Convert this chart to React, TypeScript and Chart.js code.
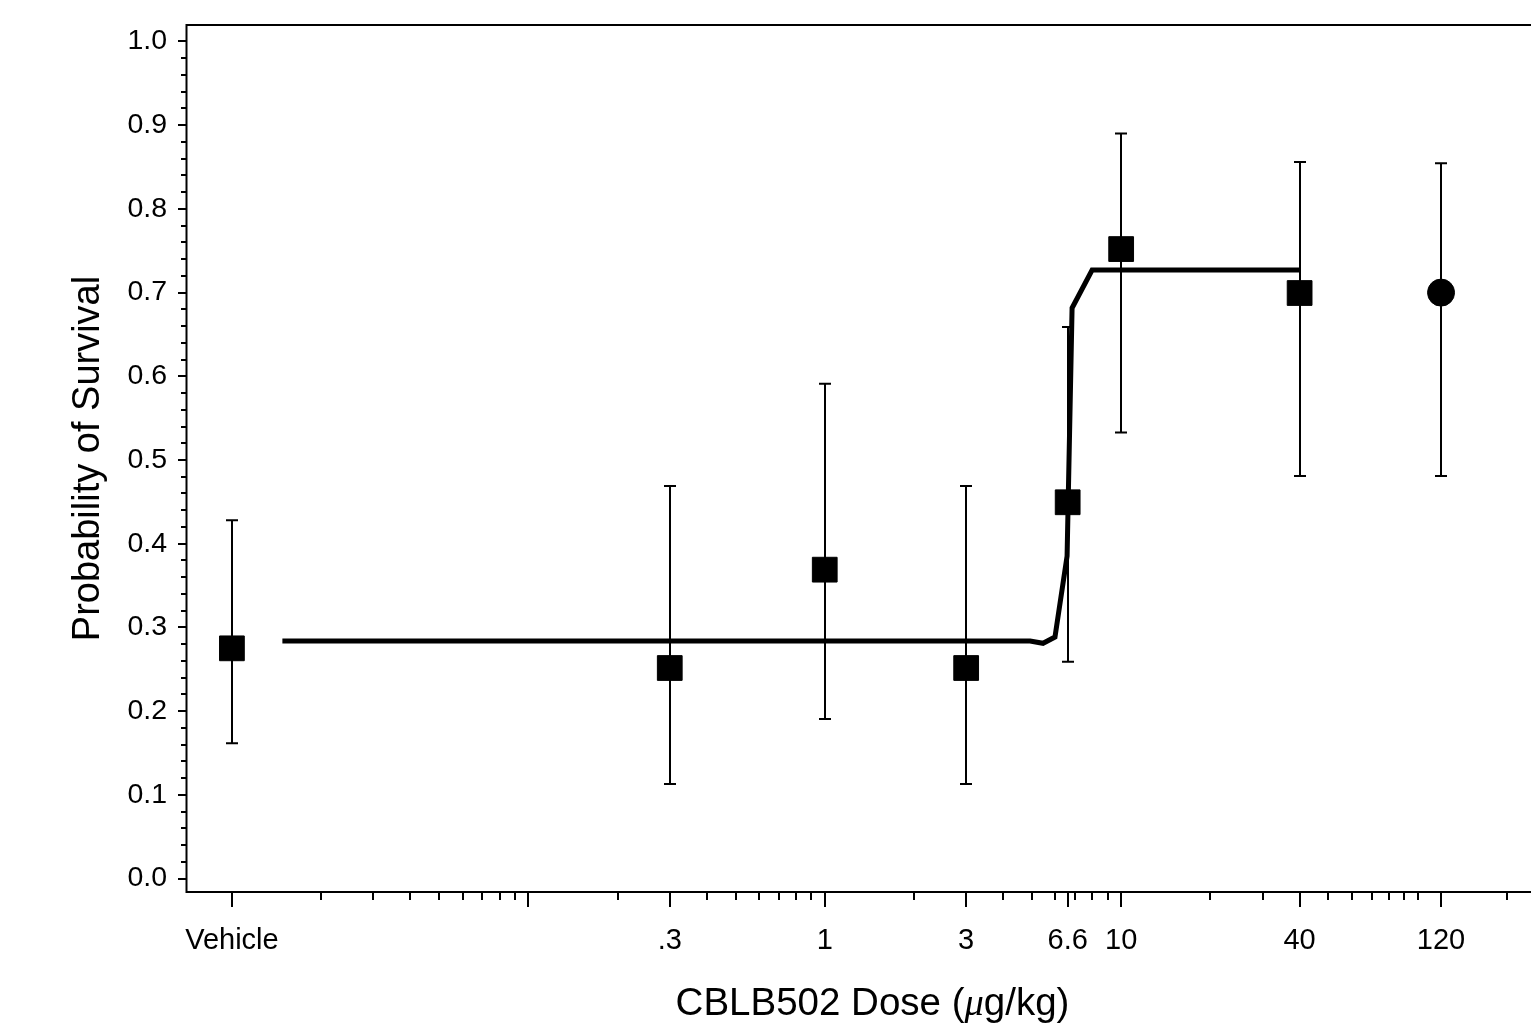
import React, { useEffect, useRef } from 'react';
import { Chart, registerables } from 'chart.js';

Chart.register(...registerables);

// ---- data ----
const doses = [0.01, 0.3, 1, 3, 6.6, 10, 40, 120]; // 0.01 = "Vehicle" position
const survival = [0.275, 0.2515, 0.369, 0.2515, 0.4495, 0.752, 0.6995, 0.7];
const lowerCI = [0.1615, 0.113, 0.1905, 0.113, 0.259, 0.533, 0.481, 0.481];
const upperCI = [0.428, 0.469, 0.591, 0.469, 0.659, 0.89, 0.856, 0.8545];
const markerStyles = ['rect', 'rect', 'rect', 'rect', 'rect', 'rect', 'rect', 'circle'];

const fitDoses = [0.0148, 4.93, 5.45, 5.98, 6.57, 6.83, 7.98, 40];
const fitSurvival = [0.2838, 0.2838, 0.281, 0.2885, 0.3853, 0.6816, 0.727, 0.727];

const xTickValues = [0.01, 0.1, 0.3, 1, 3, 6.6, 10, 40, 120];
const xTickLabels = ['Vehicle', '', '.3', '1', '3', '6.6', '10', '40', '120'];
const xMinorTicks = [
  0.02, 0.03, 0.04, 0.05, 0.06, 0.07, 0.08, 0.09,
  0.2, 0.4, 0.5, 0.6, 0.7, 0.8, 0.9,
  2, 4, 5, 6, 7, 8, 9,
  20, 30, 50, 60, 70, 80, 90, 100, 200,
];
const yTickValues = [0, 0.1, 0.2, 0.3, 0.4, 0.5, 0.6, 0.7, 0.8, 0.9, 1.0];
const yMinorTicks = [
  0.02, 0.04, 0.06, 0.08, 0.12, 0.14, 0.16, 0.18, 0.22, 0.24, 0.26, 0.28,
  0.32, 0.34, 0.36, 0.38, 0.42, 0.44, 0.46, 0.48, 0.52, 0.54, 0.56, 0.58,
  0.62, 0.64, 0.66, 0.68, 0.72, 0.74, 0.76, 0.78, 0.82, 0.84, 0.86, 0.88,
  0.92, 0.94, 0.96, 0.98,
];

const xTitleParts = ['CBLB502 Dose (', 'μ', 'g/kg)'];
const yTitle = 'Probability of Survival';

const SANS = "'Liberation Sans', Arial, sans-serif";

const decorPlugin = {
  id: 'decor',
  beforeDatasetsDraw(chart: any) {
    const { ctx, scales } = chart;
    const x = scales.x;
    const y = scales.y;
    ctx.save();
    ctx.strokeStyle = '#000';
    ctx.lineWidth = 2;
    doses.forEach((d, i) => {
      const px = Math.round(x.getPixelForValue(d));
      const p1 = y.getPixelForValue(lowerCI[i]);
      const p2 = y.getPixelForValue(upperCI[i]);
      ctx.beginPath();
      ctx.moveTo(px, p1);
      ctx.lineTo(px, p2);
      ctx.moveTo(px - 6, p1);
      ctx.lineTo(px + 6, p1);
      ctx.moveTo(px - 6, p2);
      ctx.lineTo(px + 6, p2);
      ctx.stroke();
    });
    ctx.restore();
  },
  afterDraw(chart: any) {
    const { ctx, chartArea: a, scales } = chart;
    const x = scales.x;
    const y = scales.y;
    ctx.save();
    ctx.strokeStyle = '#000';
    ctx.lineWidth = 2;
    // frame
    ctx.beginPath();
    ctx.moveTo(a.left + 0.5, a.top);
    ctx.lineTo(a.left + 0.5, a.bottom);
    ctx.moveTo(a.left - 0.5, a.top);
    ctx.lineTo(a.right, a.top);
    ctx.lineTo(a.right, a.bottom);
    ctx.moveTo(a.left - 0.5, a.bottom);
    ctx.lineTo(a.right, a.bottom);
    ctx.stroke();
    // y ticks
    ctx.beginPath();
    yTickValues.forEach((v) => {
      const py = Math.round(y.getPixelForValue(v));
      ctx.moveTo(a.left - 8, py);
      ctx.lineTo(a.left, py);
    });
    yMinorTicks.forEach((v) => {
      const py = Math.round(y.getPixelForValue(v));
      ctx.moveTo(a.left - 5, py);
      ctx.lineTo(a.left, py);
    });
    // x ticks
    xTickValues.forEach((v) => {
      const px = Math.round(x.getPixelForValue(v));
      ctx.moveTo(px, a.bottom);
      ctx.lineTo(px, a.bottom + 15);
    });
    xMinorTicks.forEach((v) => {
      const px = Math.round(x.getPixelForValue(v));
      ctx.moveTo(px, a.bottom);
      ctx.lineTo(px, a.bottom + 8);
    });
    ctx.stroke();

    // x title with italic mu
    ctx.fillStyle = '#000';
    ctx.textBaseline = 'alphabetic';
    ctx.textAlign = 'left';
    const fonts = [`38.5px ${SANS}`, `italic 38.5px 'Liberation Serif', serif`, `38.5px ${SANS}`];
    let total = 0;
    const widths = xTitleParts.map((t, i) => {
      ctx.font = fonts[i];
      const w = ctx.measureText(t).width;
      total += w;
      return w;
    });
    let cx = (a.left + a.right) / 2 - total / 2;
    xTitleParts.forEach((t, i) => {
      ctx.font = fonts[i];
      ctx.fillText(t, cx, 1015);
      cx += widths[i];
    });

    // y title
    ctx.save();
    ctx.translate(89, (a.top + a.bottom) / 2);
    ctx.rotate(-Math.PI / 2);
    ctx.font = `38px ${SANS}`;
    ctx.textAlign = 'center';
    ctx.textBaseline = 'middle';
    ctx.fillText(yTitle, 0, 0);
    ctx.restore();

    ctx.restore();
  },
};

export default function App() {
  const ref = useRef<HTMLCanvasElement | null>(null);

  useEffect(() => {
    document.body.style.margin = '0';
    const canvas = ref.current;
    if (!canvas) return;
    const chart = new Chart(canvas, {
      type: 'scatter',
      data: {
        datasets: [
          {
            label: 'Observed',
            data: doses.map((d, i) => ({ x: d, y: survival[i] })),
            pointStyle: markerStyles as any,
            pointRadius: markerStyles.map((s) => (s === 'rect' ? 17.5 : 13.5)),
            pointBackgroundColor: '#000',
            pointBorderColor: '#000',
            pointBorderWidth: 1,
            showLine: false,
            order: 0,
          },
          {
            label: 'Fit',
            data: fitDoses.map((d, i) => ({ x: d, y: fitSurvival[i] })),
            showLine: true,
            borderColor: '#000',
            borderWidth: 5,
            pointRadius: 0,
            tension: 0,
            fill: false,
            order: 1,
          },
        ],
      },
      options: {
        responsive: false,
        animation: false,
        devicePixelRatio: 1,
        layout: { autoPadding: false, padding: { left: 0, top: 25, right: 11, bottom: 0 } },
        plugins: {
          legend: { display: false },
          tooltip: { enabled: false },
        },
        scales: {
          x: {
            type: 'logarithmic',
            min: 0.007,
            max: 300,
            grid: { display: false, drawTicks: true, tickLength: 32 },
            border: { display: false },
            afterBuildTicks: (scale: any) => {
              scale.ticks = xTickValues.map((v) => ({ value: v }));
            },
            afterFit: (scale: any) => {
              scale.height = 135;
              scale.paddingLeft = 0;
              scale.paddingRight = 0;
            },
            ticks: {
              autoSkip: false,
              maxRotation: 0,
              minRotation: 0,
              padding: 0,
              color: '#000',
              font: { family: SANS, size: 29 },
              callback: (_v: any, i: number) => xTickLabels[i],
            },
          },
          y: {
            type: 'linear',
            min: -0.0161,
            max: 1.0197,
            grid: { display: false, drawTicks: true, tickLength: 19 },
            border: { display: false },
            afterBuildTicks: (scale: any) => {
              scale.ticks = yTickValues.map((v) => ({ value: v }));
            },
            afterFit: (scale: any) => {
              scale.width = 186;
              scale.paddingTop = 0;
              scale.paddingBottom = 0;
            },
            ticks: {
              autoSkip: false,
              padding: 0,
              color: '#000',
              font: { family: SANS, size: 28.5 },
              callback: (v: any) => Number(v).toFixed(1),
            },
          },
        },
      },
      plugins: [decorPlugin],
    });
    return () => chart.destroy();
  }, []);

  return (
    <div style={{ width: 1531, height: 1027, overflow: 'hidden', background: '#fff' }}>
      <canvas ref={ref} width={1570} height={1027} style={{ display: 'block' }} />
    </div>
  );
}
